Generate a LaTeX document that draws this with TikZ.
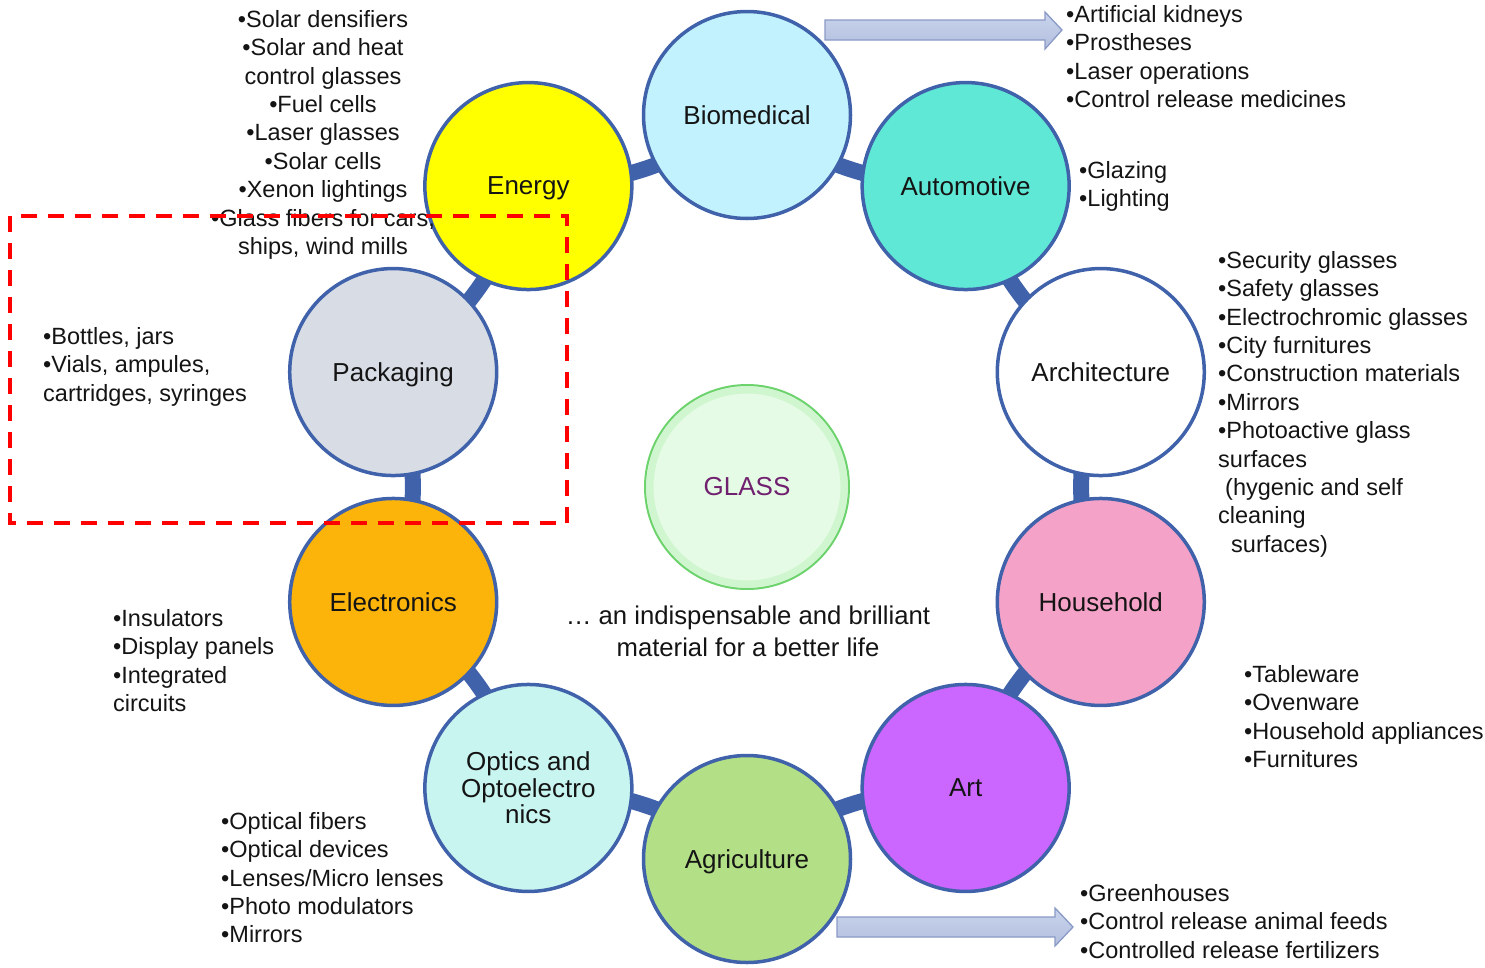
\documentclass[tikz,border=0pt]{standalone}
\usepackage{fontspec}
\setmainfont{Liberation Sans}
\usetikzlibrary{backgrounds,calc}
\definecolor{ringblue}{HTML}{4062AA}
\definecolor{txt}{HTML}{141414}
\definecolor{bioC}{HTML}{C2F2FD}
\definecolor{autoC}{HTML}{5FE8D6}
\definecolor{energyC}{HTML}{FFFF00}
\definecolor{packC}{HTML}{D8DDE5}
\definecolor{elecC}{HTML}{FDB40A}
\definecolor{opticC}{HTML}{C8F5F0}
\definecolor{agriC}{HTML}{B3E086}
\definecolor{artC}{HTML}{CB66FF}
\definecolor{houseC}{HTML}{F5A2C8}
\definecolor{glassC}{HTML}{E6FBE6}
\definecolor{glassEdge}{HTML}{6DD36D}
\definecolor{glassGlow}{HTML}{CFF6CF}
\definecolor{glassText}{HTML}{70206E}
\definecolor{arrowEdge}{HTML}{8A9AC6}
\definecolor{arrowTop}{HTML}{C9D3EC}
\definecolor{arrowMid}{HTML}{E2E7F5}
\definecolor{arrowBot}{HTML}{B2BFDE}
\definecolor{focusRed}{HTML}{FF0000}
\begin{document}
\begin{tikzpicture}[x=1pt,y=-1pt,
  hub/.style={circle, draw=ringblue, line width=3.5pt, minimum size=207pt,
    inner sep=0pt, align=center, text depth=0pt, font=\fontsize{26}{26.5}\selectfont, text=txt},
  conn/.style={draw=ringblue, line width=16pt},
  lst/.style={inner sep=0pt, font=\fontsize{23.5}{28.4}\selectfont, text=txt},
  blockarrow/.style={draw=arrowEdge, line width=1.3pt, line join=miter,
    top color=arrowTop, middle color=arrowMid, bottom color=arrowBot},
  focusbox/.style={draw=focusRed, line width=3.3pt, dash pattern=on 16pt off 11pt}]
\useasboundingbox (0,0) rectangle (1485,967);
\coordinate (ring) at (747,487);

% hubs on the ring
\node[hub, fill=bioC]    (bio)    at ($(ring)+(90:372pt)$)  {Biomedical};
\node[hub, fill=energyC] (energy) at ($(ring)+(126:372pt)$) {Energy};
\node[hub, fill=packC]   (pack)   at ($(ring)+(162:372pt)$) {Packaging};
\node[hub, fill=elecC]   (elec)   at ($(ring)+(198:372pt)$) {Electronics};
\node[hub, fill=opticC]  (optic)  at ($(ring)+(234:372pt)$) {Optics and\\Optoelectro\\nics};
\node[hub, fill=agriC]   (agri)   at ($(ring)+(270:372pt)$) {Agriculture};
\node[hub, fill=artC]    (art)    at ($(ring)+(306:372pt)$) {Art};
\node[hub, fill=houseC]  (house)  at ($(ring)+(342:372pt)$) {Household};
\node[hub, fill=white]   (arch)   at ($(ring)+(18:372pt)$)  {Architecture};
\node[hub, fill=autoC]   (auto)   at ($(ring)+(54:372pt)$)  {Automotive};

% connectors behind the hubs
\begin{scope}[on background layer]
  \draw[conn] (bio.center)    to[bend left=17] (energy.center);
  \draw[conn] (energy.center) to[bend left=17] (pack.center);
  \draw[conn] (pack.center)   to[bend left=17] (elec.center);
  \draw[conn] (elec.center)   to[bend left=17] (optic.center);
  \draw[conn] (optic.center)  to[bend left=17] (agri.center);
  \draw[conn] (agri.center)   to[bend left=17] (art.center);
  \draw[conn] (art.center)    to[bend left=17] (house.center);
  \draw[conn] (house.center)  to[bend left=17] (arch.center);
  \draw[conn] (arch.center)   to[bend left=17] (auto.center);
  \draw[conn] (auto.center)   to[bend left=17] (bio.center);
\end{scope}

% central glass
\node[circle, minimum size=204pt, inner sep=0pt, fill=glassC, draw=glassEdge, line width=2pt,
  path picture={\draw[glassGlow, line width=7pt] (path picture bounding box.center) circle[radius=97pt];},
  font=\fontsize{26}{26.5}\selectfont, text=glassText] (glass) at (ring) {GLASS};

\node[inner sep=0pt, align=center, anchor=north, font=\fontsize{25.7}{32}\selectfont, text=txt]
  (motto) at (748,606) {… an indispensable and brilliant\\material for a better life};

% lists
\node[lst, align=center, anchor=north] (energyList) at (323,10)
  {•Solar densifiers\\•Solar and heat\\control glasses\\•Fuel cells\\•Laser glasses\\•Solar cells\\•Xenon lightings\\•Glass fibers for cars,\\ships, wind mills};
\node[lst, align=left, anchor=north west] (bioList) at (1066,5)
  {•Artificial kidneys\\•Prostheses\\•Laser operations\\•Control release medicines};
\node[lst, align=left, anchor=north west] (autoList) at (1079,161)
  {•Glazing\\•Lighting};
\node[lst, align=left, anchor=north west] (archList) at (1218,251)
  {•Security glasses\\•Safety glasses\\•Electrochromic glasses\\•City furnitures\\•Construction materials\\•Mirrors\\•Photoactive glass\\surfaces\\\hspace*{7pt}(hygenic and self\\cleaning\\\hspace*{13pt}surfaces)};
\node[lst, align=left, anchor=north west] (packList) at (43,327)
  {•Bottles, jars\\•Vials, ampules,\\cartridges, syringes};
\node[lst, align=left, anchor=north west] (elecList) at (113,609)
  {•Insulators\\•Display panels\\•Integrated\\circuits};
\node[lst, align=left, anchor=north west] (houseList) at (1244,665)
  {•Tableware\\•Ovenware\\•Household appliances\\•Furnitures};
\node[lst, align=left, anchor=north west] (opticList) at (221,812)
  {•Optical fibers\\•Optical devices\\•Lenses/Micro lenses\\•Photo modulators\\•Mirrors};
\node[lst, align=left, anchor=north west] (agriList) at (1080,884)
  {•Greenhouses\\•Control release animal feeds\\•Controlled release fertilizers};

% block arrows
\coordinate (bioArrowStart) at (825,30);
\coordinate (bioArrowTip) at (1062,30);
\path[blockarrow] ($(bioArrowStart)+(0,-10)$) -- ($(bioArrowTip)+(-17,-10)$) -- ($(bioArrowTip)+(-17,-18)$)
  -- (bioArrowTip) -- ($(bioArrowTip)+(-17,19)$) -- ($(bioArrowTip)+(-17,10)$) -- ($(bioArrowStart)+(0,10)$) -- cycle;
\coordinate (agriArrowStart) at (837,927);
\coordinate (agriArrowTip) at (1073,927);
\path[blockarrow] ($(agriArrowStart)+(0,-10)$) -- ($(agriArrowTip)+(-18,-10)$) -- ($(agriArrowTip)+(-18,-19)$)
  -- (agriArrowTip) -- ($(agriArrowTip)+(-18,19)$) -- ($(agriArrowTip)+(-18,10)$) -- ($(agriArrowStart)+(0,10)$) -- cycle;

% focus frame
\coordinate (focusNW) at (10,216);
\coordinate (focusSE) at (567,523);
\draw[focusbox] (focusNW) rectangle (focusSE);
\end{tikzpicture}
\end{document}
